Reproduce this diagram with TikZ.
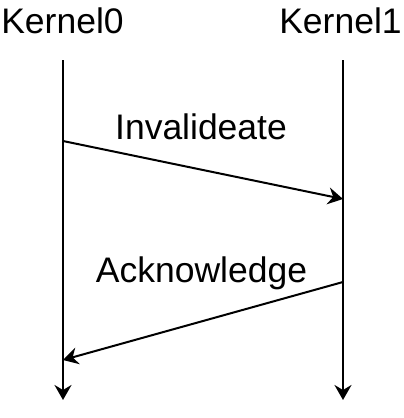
\documentclass[tikz,border=0pt]{standalone}
\usepackage{fontspec}
\setmainfont{Liberation Sans}
\usetikzlibrary{arrows.meta}
\begin{document}
\begin{tikzpicture}[x=1bp,y=-1bp,
  lbl/.style={anchor=base,inner sep=0pt,font=\fontsize{35.5bp}{41bp}\selectfont},
  life/.style={line width=2bp,-{Stealth[length=15bp,width=17bp,inset=5bp]}},
  msg/.style={line width=2bp,-{Stealth[length=15bp,width=17bp,inset=5bp]}}]
\useasboundingbox (0,0) rectangle (404,418);
\node[lbl] (k0) at (62.5,33) {Kernel0};
\node[lbl] (k1) at (340.5,33) {Kernel1};
\coordinate (k0top) at (63,60);
\coordinate (k0bot) at (63,400);
\coordinate (k1top) at (343,60);
\coordinate (k1bot) at (343,400);
\coordinate (m1s) at (63,141);
\coordinate (m1e) at (343,199);
\coordinate (m2s) at (343,282);
\coordinate (m2e) at (63,360);
\draw[life] (k0top) -- (k0bot);
\draw[life] (k1top) -- (k1bot);
\draw[msg] (m1s) -- (m1e);
\draw[msg] (m2s) -- (m2e);
\node[lbl] (l1) at (201,139) {Invalideate};
\node[lbl] (l2) at (201.5,282) {Acknowledge};
\end{tikzpicture}
\end{document}
